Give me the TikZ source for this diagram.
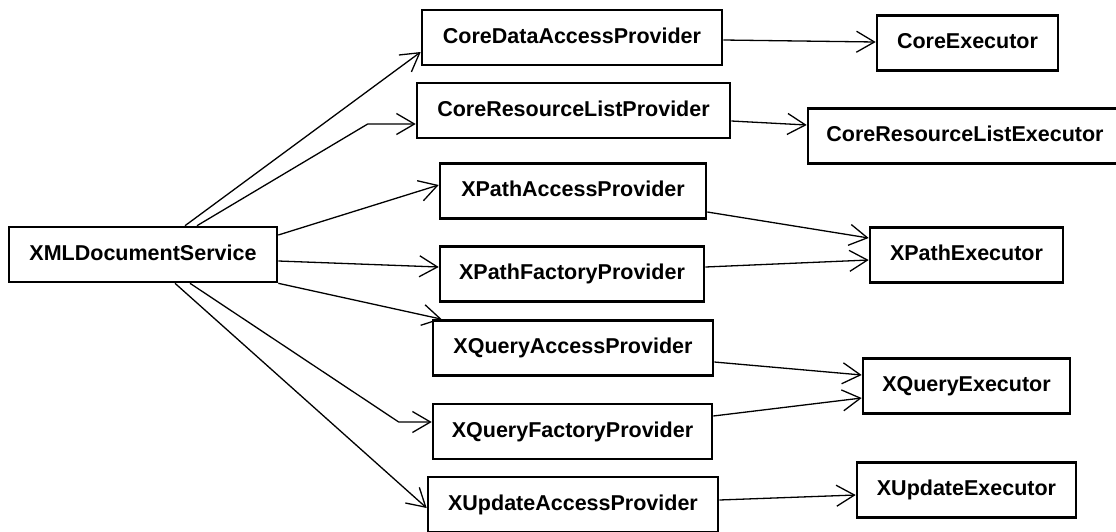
\documentclass[tikz,border=0pt]{standalone}
\usepackage{fontspec}
\setmainfont{Liberation Sans}
\usetikzlibrary{positioning, calc, arrows.meta}

\begin{document}
\begin{tikzpicture}[x=1pt, y=-1pt,
    box/.style={draw, line width=2.6pt, minimum height=55pt, inner sep=0pt,
        text height=15.5pt, text depth=4.5pt, font=\fontsize{21.5}{24}\selectfont\bfseries},
    link/.style={line width=1.3pt, -{Straight Barb[length=18pt, width=21pt, line width=1.3pt]}}]
    \useasboundingbox (0,0) rectangle (1116,531);
    \node[box, minimum width=268pt] (xml) at (143,254.5) {XMLDocumentService};
    \node[box, minimum width=300pt] (cdap) at (572,37.5) {CoreDataAccessProvider};
    \node[box, minimum width=313pt] (crlp) at (573.5,110.5) {CoreResourceListProvider};
    \node[box, minimum width=266pt] (xpap) at (573,191) {XPathAccessProvider};
    \node[box, minimum width=264pt] (xpfp) at (572,274) {XPathFactoryProvider};
    \node[box, minimum width=280pt] (xqap) at (573,348) {XQueryAccessProvider};
    \node[box, minimum width=279pt] (xqfp) at (572.5,431.5) {XQueryFactoryProvider};
    \node[box, minimum width=290pt] (xuap) at (573,504.5) {XUpdateAccessProvider};
    \node[box, minimum width=181pt] (cexe) at (967.5,43) {CoreExecutor};
    \node[box, minimum width=314pt] (crle) at (965,136) {CoreResourceListExecutor};
    \node[box, minimum width=193pt] (xpe) at (966.5,255) {XPathExecutor};
    \node[box, minimum width=207pt] (xqe) at (966.5,386) {XQueryExecutor};
    \node[box, minimum width=219pt] (xue) at (966.5,490) {XUpdateExecutor};
    \draw[link] ([xshift=42pt]xml.north) -- ([yshift=-14.5pt]cdap.west);
    \draw[link] ([xshift=54pt]xml.north) -- ([xshift=-48pt, yshift=-13.5pt]crlp.west)
        -- ([yshift=-13.5pt]crlp.west);
    \draw[link] ([yshift=19.5pt]xml.east) -- ([yshift=6pt]xpap.west);
    \draw[link] ([yshift=-6.5pt]xml.east) -- ([yshift=7pt]xpfp.west);
    \draw[link] (xml.south east) -- ([xshift=10pt]xqap.north west);
    \draw[link] ([xshift=47pt]xml.south) -- ([xshift=-33pt, yshift=9.5pt]xqfp.west)
        -- ([yshift=9.5pt]xqfp.west);
    \draw[link] ([xshift=32pt]xml.south) -- ([yshift=-3.5pt]xuap.west);
    \draw[link] ([yshift=-2.5pt]cdap.east) -- ([yshift=1pt]cexe.west);
    \draw[link] ([yshift=-10.5pt]crlp.east) -- ([yshift=11pt]crle.west);
    \draw[link] ([yshift=-21pt]xpap.east) -- ([yshift=17pt]xpe.west);
    \draw[link] ([yshift=7pt]xpfp.east) -- ([yshift=-5pt]xpe.west);
    \draw[link] ([yshift=-14pt]xqap.east) -- ([yshift=11pt]xqe.west);
    \draw[link] ([yshift=15.5pt]xqfp.east) -- ([yshift=-12pt]xqe.west);
    \draw[link] ([yshift=4.5pt]xuap.east) -- ([yshift=-5pt]xue.west);
\end{tikzpicture}
\end{document}
